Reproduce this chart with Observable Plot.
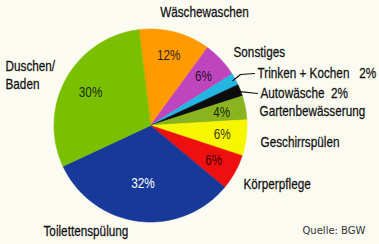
<!DOCTYPE html>
<html><head><meta charset="utf-8">
<script src="https://cdn.jsdelivr.net/npm/d3@7"></script>
<script src="https://cdn.jsdelivr.net/npm/@observablehq/plot@0.6"></script>
<style>html,body{margin:0;padding:0;background:#fbfbf2;overflow:hidden;}</style>
</head><body><div id="chart"></div>
<script>
// ---- data ----
const categories = ["Wäschewaschen","Sonstiges","Trinken + Kochen","Autowäsche","Gartenbewässerung","Geschirrspülen","Körperpflege","Toilettenspülung","Duschen/ Baden"];
const shares = [12, 6, 2, 2, 4, 6, 6, 32, 30];
const shareLabels = ["12%","6%","","","4%","6%","6%","32%","30%"];
const outerLabels = ["Wäschewaschen","Sonstiges","Trinken + Kochen\u00a0\u00a0\u00a02%","Autowäsche\u00a0\u00a02%","Gartenbewässerung","Geschirrspülen","Körperpflege","Toilettenspülung","Duschen/\nBaden"];
const colors = ["#ff9a00","#bf45bf","#22b6e0","#0c0c0c","#8ab41e","#f6f600","#ee0f0f","#173a9a","#7abf00"];
const source = "Quelle: BGW";

// ---- layout ----
const W = 379, H = 244, cx = 150, cy = 125, R = 96.5;
const start = -7 * Math.PI / 180;
const FONT = "'Liberation Sans',Arial,sans-serif";
const NARROW = 0.84; // horizontal condensing of label text
// outer label placement (pixels): [x, y, anchor]
const labelAt = [
  [204, 12, "middle"], [233, 51, "start"], [257, 72, "start"], [260, 92, "start"],
  [259, 110, "start"], [260, 141, "start"], [243, 183, "start"], [43, 230, "start"], [5, 74, "start"]
];
const leaders = [2, 3];

const arcs = d3.pie().sort(null).startAngle(start).endAngle(start + 2 * Math.PI)(shares);
const polar = (a, r) => [cx + r * Math.sin(a), cy - r * Math.cos(a)];

const slicePts = [];
arcs.forEach((a, i) => {
  slicePts.push({i, x: cx, y: cy});
  const n = Math.max(2, Math.ceil((a.endAngle - a.startAngle) * 180 / Math.PI));
  for (let k = 0; k <= n; k++) {
    const t = a.startAngle + (a.endAngle - a.startAngle) * k / n;
    const [x, y] = polar(t, R);
    slicePts.push({i, x, y});
  }
});

const idx = d3.range(shares.length);
const mid = i => (arcs[i].startAngle + arcs[i].endAngle) / 2;
const pctR = i => (shares[i] >= 32 ? 0.61 : shares[i] >= 30 ? 0.71 : 0.75) * R;

const leaderPts = [];
leaders.forEach(i => {
  const [lx, ly] = labelAt[i];
  const [ex, ey] = polar(mid(i), R * 0.97);
  leaderPts.push({i, x: ex, y: ey});
  if (i === 2) leaderPts.push({i, x: lx - 17, y: ly + 2});
  leaderPts.push({i, x: lx - 3, y: ly + 1});
});

const chart = Plot.plot({
  width: W, height: H, margin: 0, inset: 0,
  style: {background: "#fbfbf2", overflow: "visible"},
  x: {domain: [0, W], range: [0, W], axis: null},
  y: {domain: [0, H], range: [0, H], axis: null},
  marks: [
    Plot.line(slicePts, {x: "x", y: "y", z: "i", fill: d => colors[d.i], stroke: d => colors[d.i], strokeWidth: 0.6, curve: "linear-closed"}),
    Plot.line(leaderPts, {x: "x", y: "y", z: "i", stroke: "#111", strokeWidth: 1.2}),
    Plot.text(idx.filter(i => shareLabels[i]), {
      x: i => polar(mid(i), pctR(i))[0], y: i => polar(mid(i), pctR(i))[1],
      text: i => shareLabels[i], fontSize: 14, fontFamily: FONT,
      fill: i => i === 7 ? "#ffffff" : "#000000", fillOpacity: i => i === 7 ? 1 : 0.82
    }),
    Plot.text(idx.filter(i => labelAt[i][2] === "middle"), {
      x: i => labelAt[i][0], y: i => labelAt[i][1], text: i => outerLabels[i],
      textAnchor: "middle", fontSize: 14, fontFamily: FONT, fill: "#111",
      stroke: "#111", strokeWidth: 0.25
    }),
    Plot.text(idx.filter(i => labelAt[i][2] === "start"), {
      x: i => labelAt[i][0], y: i => labelAt[i][1], text: i => outerLabels[i],
      textAnchor: "start", lineHeight: 1.3, fontSize: 14, fontFamily: FONT, fill: "#111",
      stroke: "#111", strokeWidth: 0.25
    }),
    Plot.text([source], {x: () => 302, y: () => 230, text: d => d, textAnchor: "start",
      fontSize: 10, fontFamily: "'DejaVu Sans',sans-serif", fill: "#333"})
  ]
});
d3.select(chart).selectAll("text").each(function () {
  if (this.textContent === source) return;
  const x = this.getAttribute("x");
  const t = this.getAttribute("transform") || "";
  if (/translate/.test(t)) {
    this.setAttribute("transform", t + ` scale(${NARROW},1)`);
  } else if (x != null) {
    this.setAttribute("transform", `${t} translate(${x},0) scale(${NARROW},1) translate(${-x},0)`);
  }
});
document.getElementById("chart").append(chart);
</script>
</body></html>
